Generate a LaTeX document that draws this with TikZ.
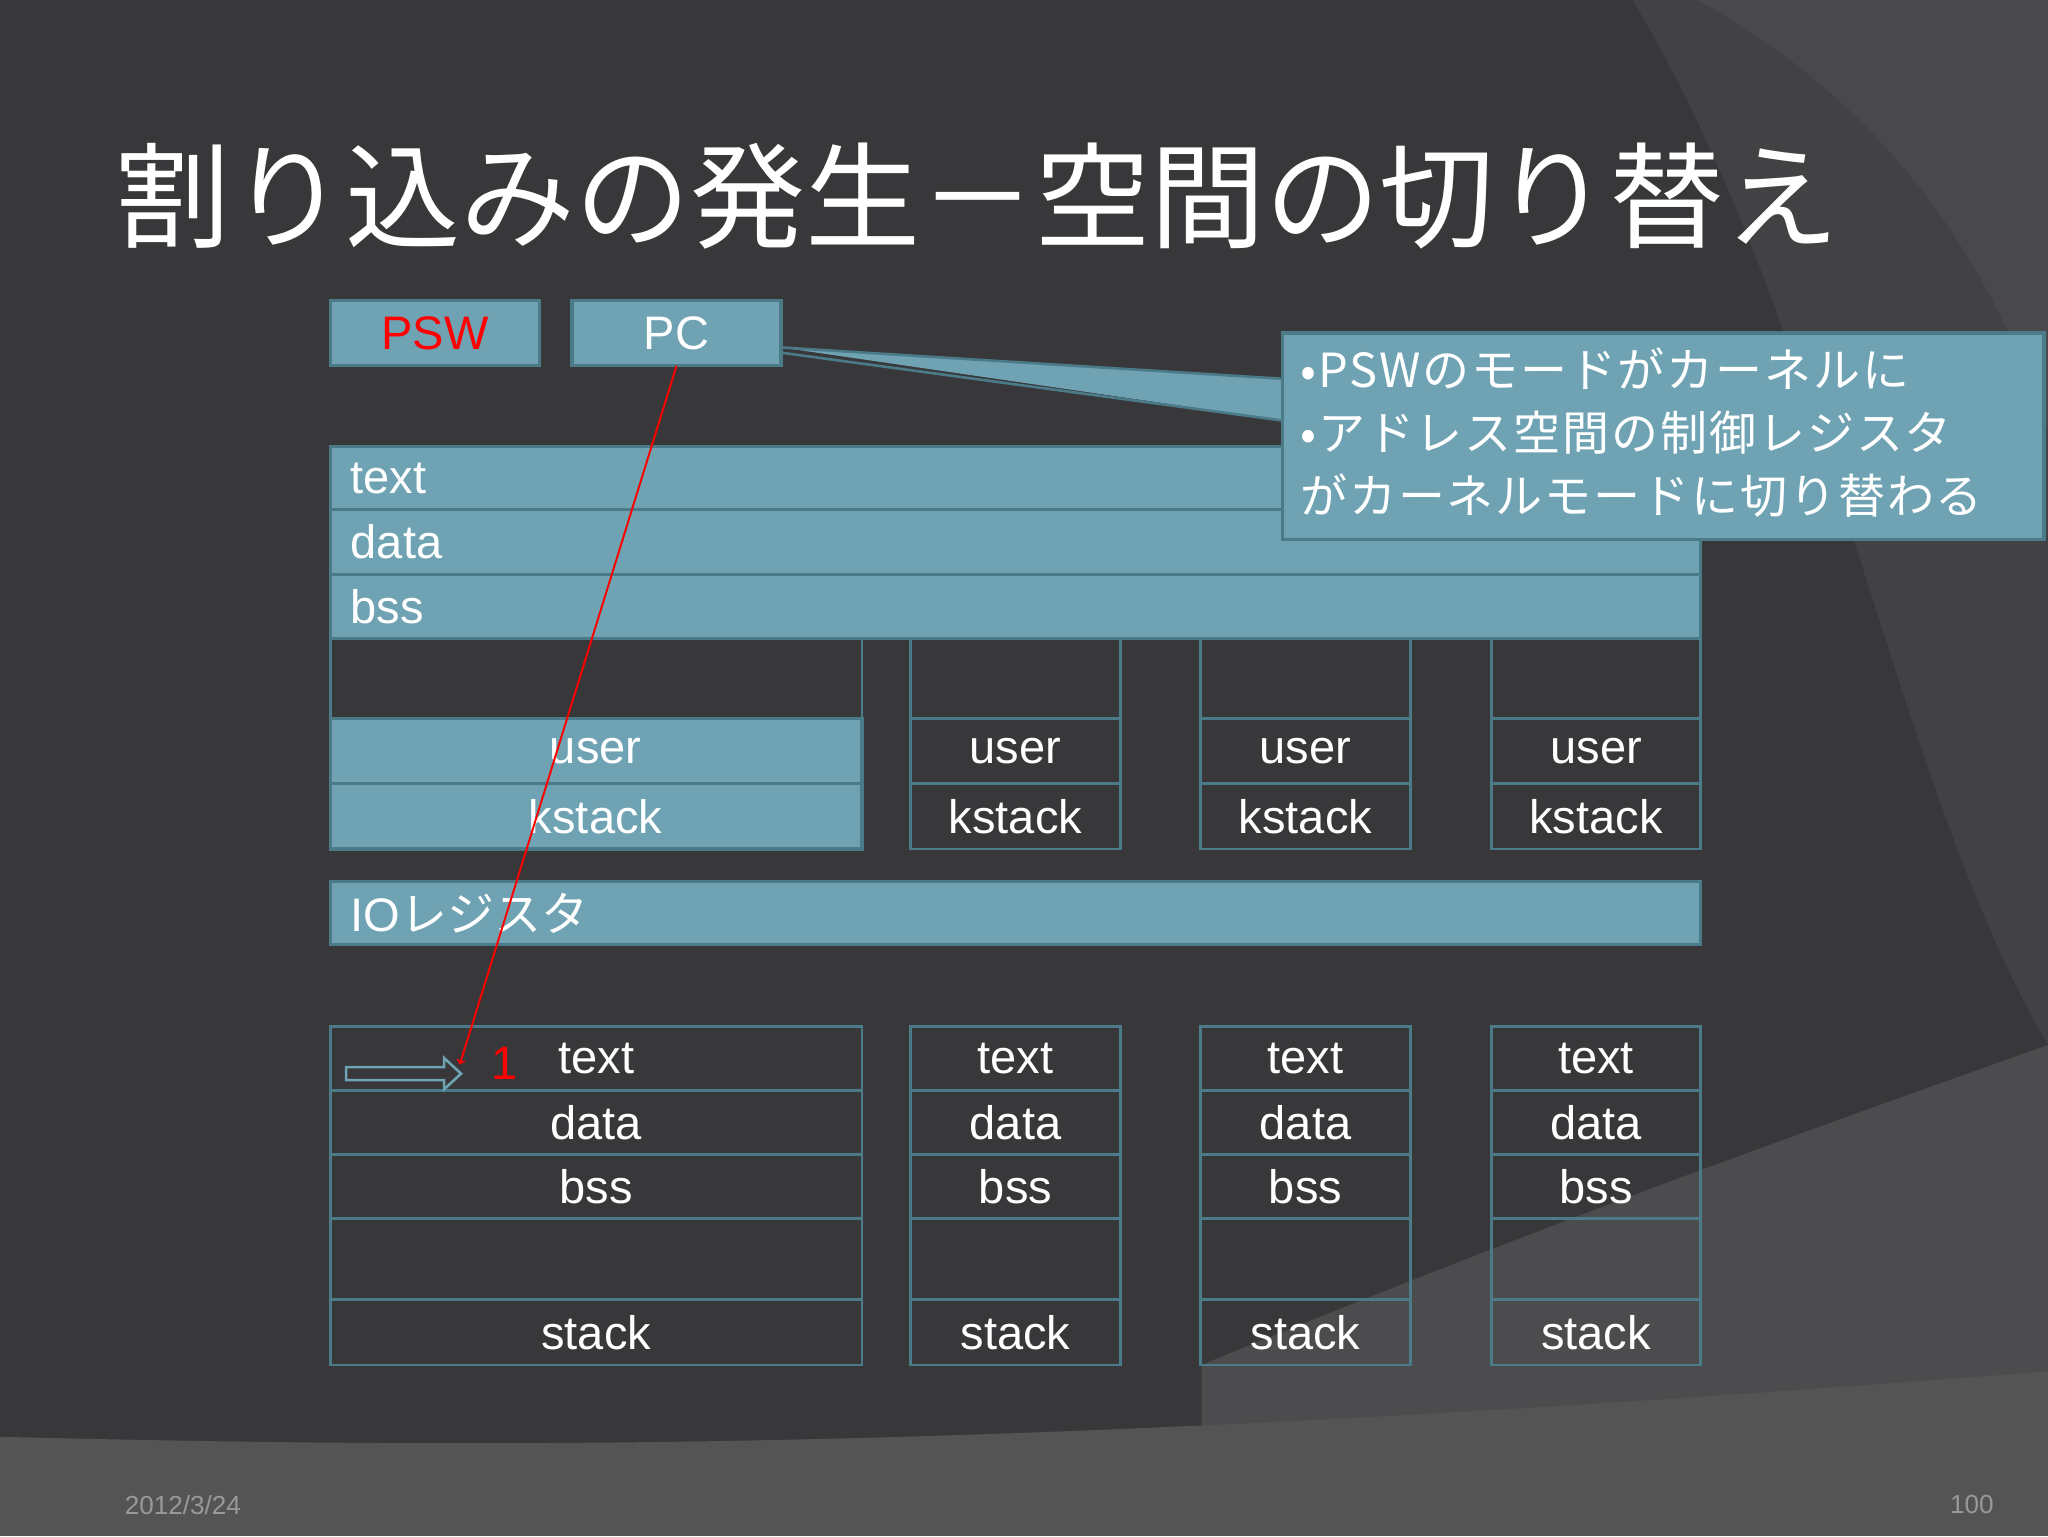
\documentclass[tikz,border=0pt]{standalone}
\usepackage{fontspec}
\setmainfont{Liberation Sans}
\newfontfamily\cjk{Noto Sans CJK JP}
\newfontfamily\cjksp[LetterSpace=4]{Noto Sans CJK JP}
\begin{document}
\begin{tikzpicture}[x=1pt,y=-1pt,
 blu/.style={draw=bd,line width=2.5pt,fill=bl},
 drk/.style={draw=bd,line width=2pt},
 lab/.style={font=\fontsize{36}{40}\selectfont,text=white}]
\definecolor{bg}{HTML}{38383A}
\definecolor{bl}{HTML}{6FA3B3}
\definecolor{bd}{HTML}{4B7A88}
\useasboundingbox (0,0) rectangle (1568,1176);
\fill[bg] (0,0) rectangle (1568,1176);
\fill[fill=white,opacity=0.05] (1250,0) .. controls (1400,250) and (1450,600) .. (1568,800) -- (1568,0) -- cycle;
\fill[fill=white,opacity=0.04] (1300,0) .. controls (1480,100) and (1540,250) .. (1568,330) -- (1568,0) -- cycle;
\begin{scope}
\clip (0,0) -- (1568,0) -- (1568,1050) .. controls (800,1110) and (400,1110) .. (0,1100) -- cycle;
\fill[fill=white,opacity=0.10] (920,1045) .. controls (1200,930) and (1400,860) .. (1568,800) -- (1568,1176) -- (920,1176) -- cycle;
\end{scope}
\fill[fill=white,opacity=0.14] (0,1100) .. controls (400,1110) and (800,1110) .. (1568,1050) -- (1568,1176) -- (0,1176) -- cycle;
\node[anchor=west,text=white,font=\cjk\fontsize{88}{92}\selectfont] (title) at (85,150) {割り込みの発生－空間の切り替え};
% rows
\foreach \n/\t/\a/\b in {rt/text/342/390,rd/data/390/440,rb/bss/440/489}{
 \draw[blu] (253,\a) rectangle (1302,\b);
 \node[lab,anchor=west] (\n) at (265,{(\a+\b)/2}) {\t};}
% columns
\foreach \i/\l/\r in {1/253/660,2/697/858,3/919/1080,4/1142/1302}{
 \draw[drk] (\l,489) -- (\l,550) (\r,489) -- (\r,550);
 \draw[drk] (\l,786) rectangle (\r,1045);
 \foreach \n/\t/\a/\b in {t/text/786/835,d/data/835/884,b/bss/884/933,s/stack/995/1045}{
  \draw[drk] (\l,\a) rectangle (\r,\b);
  \node[lab] (\n\i) at ({(\l+\r)/2},{(\a+\b)/2}) {\t};}
}
\draw[blu] (253,550) rectangle (660,600); \draw[blu] (253,600) rectangle (660,650);
\node[lab] (u1) at (456,575) {user}; \node[lab] (k1) at (456,625) {kstack};
\foreach \i/\l/\r in {2/697/858,3/919/1080,4/1142/1302}{
 \draw[drk] (\l,550) rectangle (\r,600); \draw[drk] (\l,600) rectangle (\r,650);
 \node[lab] (u\i) at ({(\l+\r)/2},575) {user}; \node[lab] (k\i) at ({(\l+\r)/2},625) {kstack};}
\draw[blu] (253,675) rectangle (1302,723);
\node[lab,anchor=west] (io) at (265,699) {IO{\cjk レジスタ}};
% PSW PC
\draw[blu] (253,230) rectangle (413,280); \node[lab,text=red] (psw) at (333,255) {PSW};
\draw[blu] (438,230) rectangle (598,280); \node[lab] (pc) at (518,255) {PC};
% callout
\fill[bl] (598,266) -- (982,290) -- (982,322) -- cycle;
\draw[bd,line width=2pt] (598,266) -- (982,290) (598,270) -- (982,322);
\draw[blu] (982,255) rectangle (1565,413);
\node[anchor=north west,text=white,align=left,font=\cjksp\fontsize{36}{48}\selectfont] (co) at (992,263)
 {•PSWのモードがカーネルに\\•アドレス空間の制御レジスタ\\がカーネルモードに切り替わる};
% red arrow
\coordinate (pcs) at (518,280);
\coordinate (tgt) at (352,815);
\draw[red,line width=1.5pt,->] (pcs) -- (tgt);
\node[text=red,font=\fontsize{36}{40}\selectfont] (one) at (386,814) {1};
\draw[bl,line width=2pt] (265,817) -- (340,817) -- (340,810) -- (353,822) -- (340,834) -- (340,827) -- (265,827) -- cycle;
\node[text=gray!80,font=\fontsize{20}{22}\selectfont,anchor=west] (date) at (92,1152) {2012/3/24};
\node[text=gray!80,font=\fontsize{20}{22}\selectfont,anchor=east] (pg) at (1530,1152) {100};
\end{tikzpicture}
\end{document}
